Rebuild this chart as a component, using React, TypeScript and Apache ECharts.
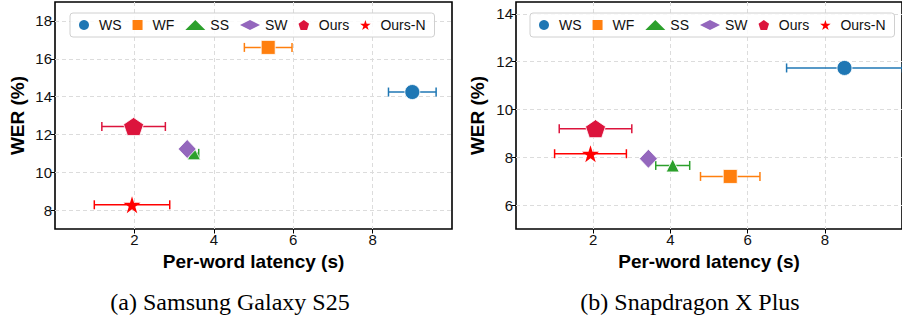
import React, { useEffect, useRef } from "react";
import * as echarts from "echarts";

// ---- data ----
const METHODS = ["WS", "WF", "SS", "SW", "Ours", "Ours-N"];
const S25_LATENCY = [9.0, 5.37, 3.5, 3.33, 1.98, 1.94];
const S25_WER = [14.24, 16.6, 11.0, 11.23, 12.42, 8.28];
const S25_LATENCY_ERR = [0.6, 0.6, 0.12, 0, 0.8, 0.95];
const XP_LATENCY = [8.51, 5.55, 4.06, 3.43, 2.06, 1.93];
const XP_WER = [11.74, 7.2, 7.66, 7.94, 9.2, 8.15];
const XP_LATENCY_ERR = [1.5, 0.77, 0.44, 0, 0.94, 0.93];
const X_TICKS = [2, 4, 6, 8];
const S25_Y_TICKS = [8, 10, 12, 14, 16, 18];
const XP_Y_TICKS = [6, 8, 10, 12, 14];
const CAPTIONS = ["(a) Samsung Galaxy S25", "(b) Snapdragon X Plus"];

// ---- style ----
const COLORS = ["#1f77b4", "#ff7f0e", "#2ca02c", "#9467bd", "#dc143c", "#ff0000"];
const SQUARE = "path://M0,0L100,0L100,100L0,100Z";
const PENTAGON = "path://M50,0L97.55,34.55L79.39,90.45L20.61,90.45L2.45,34.55Z";
const STAR =
  "path://M50,0L61.23,34.55L97.55,34.55L68.17,55.9L79.39,90.45L50,69.1L20.61,90.45L31.83,55.9L2.45,34.55L38.77,34.55Z";
const SYMBOLS = ["circle", SQUARE, "triangle", "diamond", PENTAGON, STAR];
const LEGEND_ICONS = ["circle", SQUARE, "triangle", "diamond", PENTAGON, STAR];
const SIZES: any[] = [15, 14, 13, [18, 19], [20, 18], [17, 17]];
const BORDERS = [0.8, 0.8, 0.8, 0.8, 0.8, 0];
const FONT = "Liberation Sans, Arial, sans-serif";

export default function App() {
  const ref = useRef<HTMLDivElement>(null);
  useEffect(() => {
    if (!ref.current) return;
    const chart = echarts.init(ref.current, null, { renderer: "svg" });

    const panels = [
      { lat: S25_LATENCY, wer: S25_WER, err: S25_LATENCY_ERR, yMin: 7, yMax: 19, yTicks: S25_Y_TICKS },
      { lat: XP_LATENCY, wer: XP_WER, err: XP_LATENCY_ERR, yMin: 5, yMax: 14.5, yTicks: XP_Y_TICKS },
    ];
    const grids = [
      { left: 55, top: 2, width: 397, height: 227 },
      { left: 516, top: 2, width: 442, height: 227 },
    ];
    const legendLeft = [70, 530];
    const yNameGap = [28, 29];
    const captionX = [230, 690];

    const xAxis: any[] = [];
    const yAxis: any[] = [];
    const series: any[] = [];
    const legend: any[] = [];

    panels.forEach((p, gi) => {
      xAxis.push({
        type: "value",
        gridIndex: gi,
        min: 0,
        max: 10,
        interval: 2,
        name: "Per-word latency (s)",
        nameLocation: "middle",
        nameGap: 22,
        nameTextStyle: { fontFamily: FONT, fontSize: 19, fontWeight: "bold", color: "#000" },
        axisLine: { show: false },
        axisTick: { show: true, length: 4.5, customValues: X_TICKS, lineStyle: { color: "#000", width: 1 } },
        axisLabel: {
          showMinLabel: false,
          showMaxLabel: false,
          fontFamily: FONT,
          fontSize: 15,
          color: "#111",
          margin: 3,
        },
        splitLine: { show: true, lineStyle: { color: "#dcdcdc", type: [4, 3], width: 1 } },
      });
      yAxis.push({
        type: "value",
        gridIndex: gi,
        min: p.yMin,
        max: p.yMax,
        name: "WER (%)",
        nameLocation: "middle",
        nameGap: yNameGap[gi],
        nameTextStyle: { fontFamily: FONT, fontSize: 19, fontWeight: "bold", color: "#000" },
        axisLine: { show: false },
        axisTick: { show: true, length: 4.5, customValues: p.yTicks, lineStyle: { color: "#000", width: 1 } },
        axisLabel: {
          showMinLabel: false,
          showMaxLabel: false,
          fontFamily: FONT,
          fontSize: 15,
          color: "#111",
          margin: 3,
        },
        splitLine: { show: true, lineStyle: { color: "#dcdcdc", type: [4, 3], width: 1 } },
      });

      // error bars
      series.push({
        type: "custom",
        xAxisIndex: gi,
        yAxisIndex: gi,
        z: 2,
        clip: true,
        data: p.lat.map((x, i) => [x, p.wer[i], p.err[i]]),
        renderItem: (params: any, api: any) => {
          const x = api.value(0);
          const y = api.value(1);
          const e = api.value(2);
          if (!e) return { type: "group", children: [] };
          const a = api.coord([x - e, y]);
          const b = api.coord([x + e, y]);
          const color = COLORS[params.dataIndex];
          const st = { stroke: color, lineWidth: 1.5 };
          const cap = 4.5;
          return {
            type: "group",
            children: [
              { type: "line", shape: { x1: a[0], y1: a[1], x2: b[0], y2: b[1] }, style: st },
              { type: "line", shape: { x1: a[0], y1: a[1] - cap, x2: a[0], y2: a[1] + cap }, style: st },
              { type: "line", shape: { x1: b[0], y1: b[1] - cap, x2: b[0], y2: b[1] + cap }, style: st },
            ],
          };
        },
      });

      METHODS.forEach((m, i) => {
        series.push({
          type: "scatter",
          name: m,
          xAxisIndex: gi,
          yAxisIndex: gi,
          z: 3,
          symbol: SYMBOLS[i],
          symbolSize: SIZES[i],
          itemStyle: { color: COLORS[i], borderColor: "#fff", borderWidth: BORDERS[i], opacity: 1 },
          data: [[p.lat[i], p.wer[i]]],
        });
      });

      legend.push({
        left: legendLeft[gi],
        top: 13,
        orient: "horizontal",
        itemWidth: 20,
        itemHeight: 10,
        itemGap: 11,
        padding: [5, 9, 5, 9],
        backgroundColor: "rgba(255,255,255,0.85)",
        borderColor: "#d0d0d0",
        borderWidth: 1,
        borderRadius: 3,
        selectedMode: false,
        itemStyle: { borderWidth: 0 },
        textStyle: { fontFamily: FONT, fontSize: 14, color: "#111" },
        data: METHODS.map((m, i) => ({ name: m, icon: LEGEND_ICONS[i] })),
      });
    });

    chart.setOption({
      animation: false,
      backgroundColor: "#fff",
      grid: grids.map((g) => ({ ...g, show: true, borderColor: "#000", borderWidth: 1.6, backgroundColor: "transparent" })),
      xAxis,
      yAxis,
      legend,
      series,
      graphic: CAPTIONS.map((c, i) => ({
        type: "text",
        x: captionX[i],
        y: 302,
        style: {
          text: c,
          font: "24px 'Liberation Serif', 'Times New Roman', serif",
          fill: "#000",
          textAlign: "center",
          textVerticalAlign: "middle",
        },
      })),
    });
    return () => chart.dispose();
  }, []);

  return (
    <div
      ref={ref}
      style={{ position: "fixed", left: 0, top: 0, width: 902, height: 321, overflow: "hidden" }}
    />
  );
}
